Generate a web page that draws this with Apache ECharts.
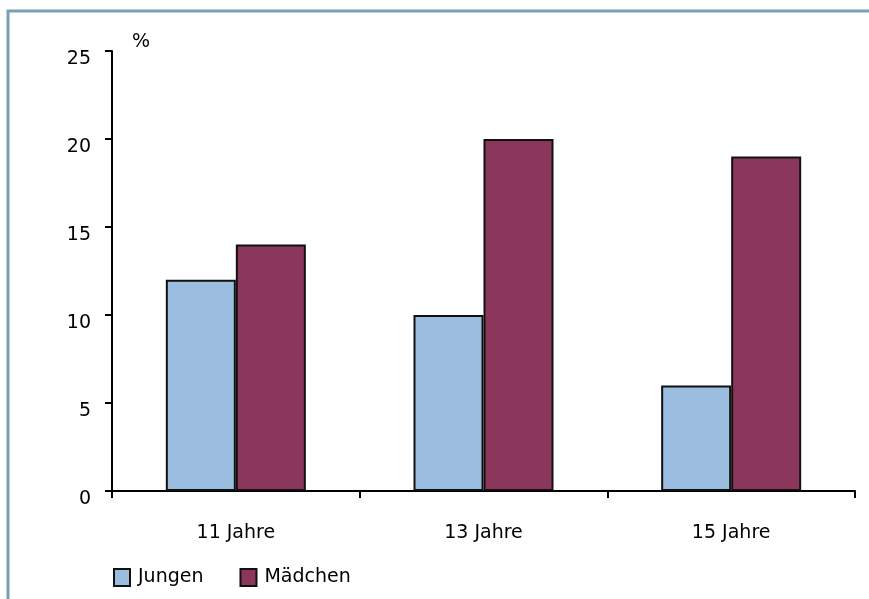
<!DOCTYPE html>
<html>
<head>
<meta charset="utf-8">
<script src="https://cdn.jsdelivr.net/npm/echarts@6/dist/echarts.min.js"></script>
<style>html,body{margin:0;padding:0;background:#fff;}#c{width:869px;height:599px;}</style>
</head>
<body>
<div id="c"></div>
<script>
const categories = ['11 Jahre', '13 Jahre', '15 Jahre'];
const jungen = [12, 10, 6];
const maedchen = [14, 20, 19];
const yTicks = [0, 5, 10, 15, 20, 25];

const chart = echarts.init(document.getElementById('c'));
const font = 'DejaVu Sans';
chart.setOption({
  animation: false,
  backgroundColor: '#fff',
  textStyle: { fontFamily: font, color: '#000' },
  grid: { left: 112, right: 14, top: 51, bottom: 108 },
  graphic: [
    { type: 'rect', shape: { x: 8, y: 11, width: 1200, height: 1200 }, style: { fill: 'none', stroke: '#7a9fb2', lineWidth: 3 }, silent: true },
    { type: 'text', left: 132, top: 33, style: { text: '%', font: '19px "DejaVu Sans"', fill: '#000' } }
  ],
  legend: {
    left: 113, top: 568, itemWidth: 16, itemHeight: 17, itemGap: 36, padding: 0,
    icon: 'rect',
    textStyle: { fontFamily: font, fontSize: 19, color: '#000', padding: [2, 0, 0, 3] },
    data: ['Jungen', 'Mädchen']
  },
  xAxis: {
    type: 'category', data: categories,
    axisLine: { lineStyle: { color: '#000', width: 2 } },
    axisTick: { show: true, alignWithLabel: false, length: 7, lineStyle: { color: '#000', width: 2 } },
    axisLabel: { fontFamily: font, fontSize: 19, color: '#000', margin: 33 }
  },
  yAxis: {
    type: 'value', min: yTicks[0], max: yTicks[yTicks.length - 1], interval: 5,
    axisLine: { show: true, lineStyle: { color: '#000', width: 2 } },
    axisTick: { show: true, length: 7, lineStyle: { color: '#000', width: 2 } },
    splitLine: { show: false },
    axisLabel: { fontFamily: font, fontSize: 19, color: '#000', margin: 21, verticalAlign: 'top', lineHeight: 16 }
  },
  series: [
    { name: 'Jungen', type: 'bar', data: jungen, barWidth: 70, barGap: '0%',
      itemStyle: { color: '#9bbde0', borderColor: '#111', borderWidth: 2 } },
    { name: 'Mädchen', type: 'bar', data: maedchen, barWidth: 70, barGap: '0%',
      itemStyle: { color: '#8b375c', borderColor: '#111', borderWidth: 2 } }
  ]
});
</script>
</body>
</html>
